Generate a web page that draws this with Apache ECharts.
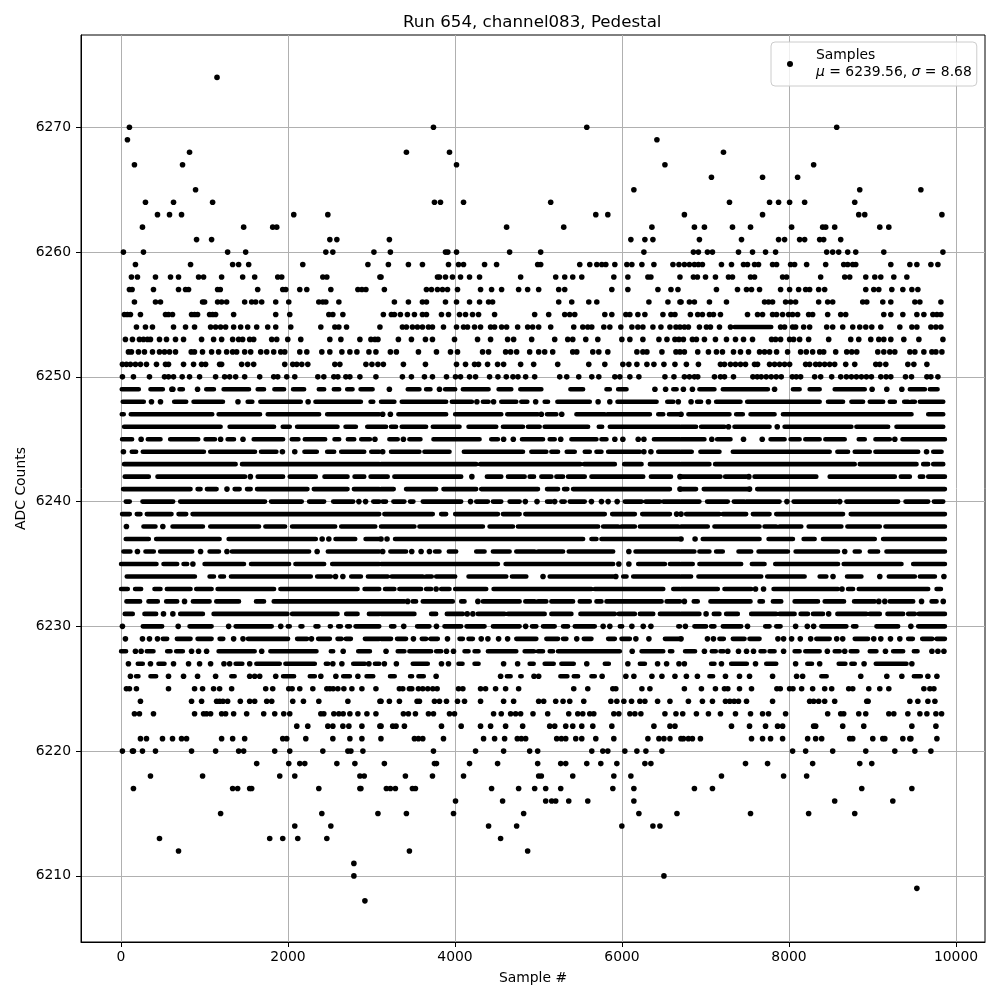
<!DOCTYPE html>
<html>
<head>
<meta charset="utf-8">
<style>html,body{margin:0;padding:0;background:#fff}#c{width:1000px;height:1000px}</style>
<script src="https://cdn.jsdelivr.net/npm/echarts@6/dist/echarts.min.js"></script>
</head>
<body>
<div id="c"></div>
<script>
// Values. A plain number is one visible dot at that sample #;
// [a, b] is a stretch where the dots at that ADC level merge into one solid bar.
const r6274=[1150];
const r6270=[101,3742,5578,8571];
const r6269=[77,6418];
const r6268=[821,3418,3934,7215];
const r6267=[161,737,4018,6514,8295];
const r6266=[7071,7683,8103];
const r6265=[893,6142,8847,9579];
const r6264=[293,629,1097,3754,3826,4102,5146,7287,7767,7875,8007,8187,8787];
const r6263=[437,581,725,2069,2477,5686,5830,6747,7683,8835,8907,9831];
const r6262=[257,1469,1817,1865,4618,5302,6358,6867,6987,7323,7539,8031,8403,8439,8547,9087,9195];
const r6261=[905,1085,2501,2585,3214,6106,6274,6370,6927,7431,7875,7947,8127,8187,8367,8415,8619];
const r6260=[29,269,1277,1493,2453,2537,3029,3226,3886,3914,4018,4654,5026,6262,6855,6915,7023,7083,7395,7563,7719,7839,8451,8523,8595,8703,8799,9135,9843];
const r6259=[173,833,1337,1409,1529,2177,2957,3202,3442,3610,3922,4042,4102,4354,4498,4990,5026,5494,5614,5698,5758,5806,5914,6058,6118,6238,6382,6610,6682,6747,6807,6867,6915,6963,7191,7311,7455,7503,7587,7635,7803,7851,8019,8067,8211,8439,8655,8703,8763,8799,9219,9447,9531,9699,9783];
const r6258=[125,197,413,593,689,929,989,1205,1457,1601,1877,1925,2417,2465,3101,3114,3790,3814,3886,3970,4066,4174,4294,4786,5206,5314,5410,5518,5902,6070,6310,6346,6694,6855,6903,7000,7119,7275,7323,7539,7587,7923,7971,8379,8667,8727,8919,9027,9099,9255,9411];
const r6257=[101,133,389,689,773,809,1157,1189,1637,1937,1973,2141,2225,2513,2837,2885,2933,3154,3658,3718,3790,3850,3910,4030,4306,4438,4558,4762,4870,5002,5242,5314,5878,6070,6430,6586,6670,7131,7383,7491,7551,7647,7899,8007,8115,8199,8247,8355,8427,8919,9015,9075,9231,9363,9471,9543];
const r6256=[161,413,473,977,1001,1157,1205,1265,1481,1565,1613,1685,1853,2009,2369,2417,2453,2609,3274,3442,3610,3658,3886,4018,4174,4294,4402,4450,5242,5398,5602,5698,6322,6550,6694,6707,6807,6867,7047,7251,7707,7755,7803,7959,8019,8079,8355,8463,8523,8883,8931,9123,9219,9507,9567,9819];
const r6255=[41,77,113,233,533,569,617,845,881,917,1061,1097,1133,1349,1853,2021,2489,2537,2657,3142,3238,3274,3346,3430,3514,3610,3658,3838,3922,4054,4126,4210,4282,4474,4954,5122,5314,5374,5434,5794,5878,6046,6094,6190,6274,6490,6586,6634,6819,6907,6963,7047,7095,7179,7503,7623,7683,7803,7851,7923,7995,8043,8103,8235,8283,8463,8619,8679,9135,9219,9363,9531,9615,9723,9771,9819];
const r6254=[185,293,377,629,773,881,1073,1133,1193,1253,1349,1433,1517,1625,1757,1853,2033,2393,2561,2609,2701,3101,3370,3418,3490,3550,3610,3682,3730,3862,4018,4102,4150,4234,4306,4426,4474,4558,4618,4750,4870,4930,5002,5146,5422,5530,5590,5638,5782,5854,5986,6118,6190,6250,6370,6466,6574,6646,6694,6747,6795,6927,7011,7059,7167,7299,[7347,7787],7899,7947,8043,8079,8175,8247,8451,8523,8643,8763,8847,8919,8991,9099,9327,9471,9531,9699,9759,9819];
const r6253=[53,137,221,269,317,353,461,545,653,749,965,1109,1205,1337,1409,1457,1541,1589,1805,1865,1997,2153,2501,2633,2861,2993,3041,3077,3322,3478,3646,3730,3994,4270,4426,4630,4702,4918,5194,5350,5410,5566,5710,5998,6094,6250,6442,6538,6634,6682,6735,6843,6891,6987,7119,7251,7359,7455,7563,7791,7839,7899,8007,8055,8127,8235,8475,8739,8835,8979,9075,9135,9219,9375,9555,9843];
const r6252=[89,125,209,281,377,461,521,581,653,841,880,976,1085,1169,1265,1337,1385,1481,1553,1673,1745,1829,1913,1961,2141,2225,2405,2501,2645,2741,2825,2969,3053,3226,3298,3562,3778,3946,4030,4330,4402,4606,4666,4738,4894,5002,5074,5170,5410,5458,5650,5722,5830,6178,6250,6298,6478,6646,6694,6747,6907,7035,7131,7203,7335,7419,7515,7647,7707,7767,7851,7983,8139,8207,8283,8367,8415,8559,8691,8751,8811,9063,9135,9207,9267,9447,9507,9615,9711,9759,9831];
const r6251=[17,65,113,173,233,305,425,533,569,749,869,965,1013,1181,1205,1445,1517,1589,1961,2057,2105,2165,2237,2561,2621,2933,3005,3077,3142,3382,3646,4018,4126,4234,4282,4390,4510,4582,4786,4942,5230,5602,5794,6010,6082,6178,6298,6382,6502,6634,6771,6915,7179,7227,7299,7359,7419,7479,7587,7623,7767,7827,7887,7947,8007,8199,8247,8319,8367,8427,8487,8547,8679,8787,9039,9087,9159,9423,9495,9651];
const r6250=[17,149,341,521,569,629,733,821,941,1133,1241,1301,1373,1481,1661,1829,1877,1985,2081,2357,2429,2549,2597,2693,2741,2861,3053,3370,3478,3634,3730,3898,4006,4066,4174,4246,4414,4514,4614,4694,4754,4846,4954,5254,5338,5482,5638,5722,5914,5974,6094,6202,6514,6622,6747,6807,6867,6907,7107,7179,7227,7335,7567,7619,7667,7727,7787,7847,7907,8039,8087,8139,8307,8379,8511,8619,8687,8747,8807,8867,8927,8987,9099,9163,9219,9395,9467,9651,9699,9783];
const r6249=[[9,213],[353,501],609,621,[701,741],917,[1021,1113],[1229,1533],[1637,1713],[1837,1953],[2061,2193],[2369,2433],[2549,2613],[2709,2773],[2869,3013],3214,[3434,3574],[3654,3706],3814,[3882,4002],[4094,4402],[4522,4674],[4782,5034],[5382,5534],[5814,5854],[5954,6054],6394,6522,[6614,6654],6735,6843,[6927,7107],[7207,7747],7827,[8047,8127],[8247,8367],[8547,8907],8995,9171,9351,[9447,9627],[9687,9779]];
const r6248=[[21,273],365,473,[637,781],[869,1221],1401,[1517,1573],[1669,2153],2241,[2329,2873],[2989,3021],[3114,3274],[3362,3894],[3962,4202],4262,[4334,4402],4462,[4554,4734],[4794,4866],4966,[5074,5114],[5226,5614],5714,5854,[5946,6414],[6542,6614],6674,6827,[6899,6947],7035,[7127,7419],[7499,8367],[8467,8647],[8747,8887],[8967,9127],[9207,9267],[9379,9427],[9467,9507],[9567,9847]];
const r6247=[[9,33],[117,1093],[1169,1665],[1757,2373],[2469,3093],3134,3226,[3322,3894],[4002,4554],[4626,4994],5034,[5102,5214],5278,[5454,5794],[5826,6334],[6434,6494],[6562,6694],6707,[6795,7287],[7367,7447],[7539,7827],[7927,9467],[9667,9847]];
const r6246=[[37,1193],[1301,1833],[1937,2021],[2109,2593],[2689,2813],[2949,3093],[3114,3174],[3234,3294],[3362,3654],[3734,4054],[4162,4494],[4574,4814],[4874,5014],[5074,5594],[5722,5762],[5854,6694],[6707,6887],[6947,7227],7275,[7347,7767],7859,[7947,8747],[8807,9187],[9287,9847]];
const r6245=[[13,133],241,[321,473],[589,925],[1013,1125],1193,[1277,1353],1461,[1589,1941],[2045,2125],[2201,2445],[2557,2613],[2717,2793],[2877,2981],3041,[3214,3314],3382,[3454,3586],[3742,4294],[4434,4514],4582,4698,[4802,5054],[5134,5194],5266,[5394,5694],[5754,5814],5914,6010,6194,6262,[6382,6694],[6707,6987],7075,[7139,7299],7455,7679,[7779,7947],[8019,8127],[8195,8367],[8435,8667],[8835,8907],[9035,9207],9267,[9359,9867]];
const r6244=[29,[129,181],[261,993],[1069,1605],[1677,1861],1933,2081,[2197,2345],[2469,2553],[2637,2913],[2997,3093],3134,[3234,3574],[3634,3934],[4106,4354],[4354,4814],[4914,5094],[5154,5234],[5338,5434],[5554,5614],[5694,5754],[5834,6214],6262,6346,[6434,6694],[6707,6835],[6939,7167],[7327,8487],[8579,8707],[8787,8967],[9035,9547],9647,[9727,9827]];
const r6243=[[37,1373],[1449,3093],[3114,4254],[4302,5502],[5546,5914],[6026,6234],[6334,6694],[6707,7047],[7115,8787],[8847,9527],[9607,9667],[9727,9847]];
const r6242=[[45,333],[437,1485],1549,[1637,1941],[2021,2333],[2437,2713],[2797,2913],[2989,3093],[3114,3194],[3274,4074],4202,[4382,4554],[4634,4834],[4894,4946],[5034,5154],[5214,5294],[5354,5554],[5634,6254],[6346,6586],6694,[6707,7179],[7235,7487],7519,[7587,8327],[8487,9267],[9339,9447],[9567,9607],[9667,9867]];
const r6241=[[25,833],[917,953],[1029,1145],1269,[1361,1421],[1509,1553],[1629,2233],[2309,2713],[2789,3093],[3114,3266],[3414,3774],[3862,4254],[4314,4994],[5102,5234],[5306,5346],[5414,6574],6694,[6707,6887],[6979,7507],7527,[7619,9867]];
const r6240=[[57,105],[257,625],[709,1725],[1797,2165],[2253,2433],[2541,2781],2849,2929,[3021,3093],[3134,3174],[3262,3394],[3462,3502],[3614,4074],4186,[4254,4394],[4454,4554],[4654,4774],4842,4982,[5102,5154],5194,[5274,5314],[5374,5554],5634,5754,5834,5942,[6034,6234],[6282,6454],[6494,6694],[6707,6927],[7019,7267],[7339,7467],[7487,7887],7975,[8055,8567],8607,[8687,9307],[9395,9667],[9735,9847]];
const r6239=[[13,105],[189,233],[309,605],[689,781],[857,3093],[3154,3734],[3834,3894],[4002,4514],[4574,4774],[4842,5794],[5882,6154],[6242,6574],6654,6707,[6767,7167],[7207,7487],[7567,7767],[7847,8647],[8739,9867]];
const r6238=[65,[269,413],501,[617,981],[1069,1653],[1729,1965],[2049,2565],[2637,3045],[3114,3514],[3574,4334],[4414,4694],[4754,5714],[5774,5954],[5994,6154],[6214,6674],[6707,7027],[7107,7647],[7707,7847],[7887,8147],[8235,8627],[8699,9087],[9155,9867]];
const r6237=[[57,333],[421,1181],[1289,2333],2409,2489,[2569,2805],[2929,3093],3114,3186,[3282,5534],[5634,5694],[5754,6694],6707,6875,[6967,7647],[7755,8047],[8175,8307],[8407,9027],[9127,9867]];
const r6236=[[29,113],197,[293,393],[469,853],953,[1061,1173],1269,[1329,2253],2349,[2477,3093],3134,[3226,3414],3482,3594,3694,[3762,3814],[3926,4014],[4254,4354],[4454,4654],[4734,4954],[4994,5294],[5362,5894],6082,[6162,6694],[6707,6867],[6927,7047],[7127,7207],[7395,7547],[7635,7987],[8079,8587],8667,[8787,8847],[8967,9067],[9167,9867]];
const r6235=[[1,425],[509,673],[749,793],861,[1001,1473],[1557,2013],[2089,2433],[2529,3093],[3114,4514],[4606,5894],5962,6082,[6194,6514],[6574,6694],[6707,6847],[6927,7427],[7555,7707],[7835,8587],[8655,9347],[9487,9867]];
const r6234=[[69,885],[1061,1113],[1189,1233],[1317,2273],[2349,2513],2569,2657,[2757,2873],[2957,3093],[3114,3194],[3242,3614],[3654,3722],[3774,4002],[4162,4614],[4682,4854],5054,[5134,5894],5926,[6014,6054],[6134,6694],[6707,6827],[6915,7667],[7739,8187],[8367,8447],8527,[8695,8867],9087,[9195,9507],[9567,9747],9855];
const r6233=[[1,81],[169,241],[401,473],[549,833],[901,1085],[1157,1833],[1909,2833],[2917,3093],[3162,3274],[3334,3594],[3654,3714],3774,[3834,3934],[4002,4374],[4462,5634],[5674,6494],[6614,6694],[6707,7147],[7227,7547],7599,7695,[7815,8587],8635,[8707,8767],[8835,9667],[9767,9819]];
const r6232=[[65,229],[329,441],[541,673],761,[861,1061],[1141,1413],[1617,1713],[1829,3093],[3114,3394],3434,[3494,3534],[3614,3974],[4074,4114],4274,[4334,4774],[4842,4954],[4994,5094],[5154,5414],[5494,5614],[5694,5754],[5814,6474],[6534,6694],6747,[6859,6907],[7059,7539],[7647,7687],[7807,7907],[8067,8347],[8427,8659],[8779,9027],9075,9147,[9207,9487],9587,[9707,9767],9847];
const r6231=[[45,141],[281,421],509,621,[709,981],[1109,1993],[2049,2593],[2697,2833],[2969,3093],[3114,3514],[3714,3774],[3902,4094],4146,4214,[4274,4594],[4634,5074],[5154,5394],[5502,5914],[5962,6154],[6214,6374],[6454,6694],[6707,6927],7007,[7099,7167],[7247,7387],[7547,7847],[7887,8067],[8139,8227],[8287,8407],8475,[8579,8927],[8967,9087],[9179,9367],[9427,9507],[9555,9867]];
const r6230=[17,[261,493],685,[821,1085],1289,[1373,1805],1913,[1997,2021],[2149,2173],[2329,2365],[2501,2513],[2601,2633],[2709,2741],[2809,3093],[3234,3274],3386,[3546,3694],3778,[3874,4074],[4138,4354],[4454,4774],4846,[4922,4974],[5054,5194],[5294,5354],[5434,5674],5774,5854,[5974,6002],6118,6254,6346,[6674,6694],6759,[6867,7007],[7067,7107],[7207,7427],7503,[7715,7767],[7847,7899],8079,8219,8295,[8387,8687],[8767,8807],[9047,9307],9459,[9547,9867]];
const r6229=[53,257,341,437,[501,553],[669,833],[917,1085],[1181,1225],1349,1461,[1521,2001],[2109,2229],2281,[2361,2501],[2593,2641],[2693,2753],[2921,3093],[3114,3234],[3306,3414],3502,[3602,3654],[3706,3794],3910,[4054,4094],[4162,4214],4314,4394,4522,4630,[4734,4974],[5094,5234],[5294,5334],5458,[5542,5634],[5834,5914],[5994,6094],6166,6322,[6514,6694],6707,7023,7095,[7167,7219],[7327,7467],[7527,7647],7867,7935,8031,8135,8259,[8327,8487],8571,8643,[8787,8947],9015,9099,9215,9327,[9427,9483],[9595,9715],[9767,9867]];
const r6228=[[1,61],173,241,[309,389],[553,593],[661,741],845,929,1025,[1169,1601],1685,[1789,2341],[2513,2541],2661,[2841,2981],3174,[3314,3394],[3454,3714],[3774,3834],3898,3982,[4114,4162],[4234,4282],[4394,4734],[4834,4946],[4994,5054],[5134,5174],[5234,5974],6122,[6234,6494],[6574,6602],[6755,6875],6987,[7075,7123],[7179,7215],7267,7395,7491,7575,[7659,7707],[7767,7827],7935,[8067,8127],[8195,8367],8459,[8547,8607],8667,[8739,8819],[8967,9047],9155,[9247,9367],[9495,9539],9711,9783,9855];
const r6227=[89,[201,261],353,[449,521],629,809,941,1073,1233,1301,[1373,1453],1541,[1621,1901],[1969,2321],[2453,2481],2537,2645,[2781,2921],2969,[3041,3093],3154,3298,[3494,3674],3838,3922,[4042,4090],[4234,4282],4582,4750,[4894,4942],[5074,5182],[5274,5422],5578,[5794,5842],6070,[6214,6274],6426,6534,6682,6747,[7067,7107],7191,[7307,7495],7599,[7727,7847],8079,[8219,8275],8367,[8595,8675],[8747,8787],8899,[9039,9407],9471];
const r6226=[113,[181,209],[353,421],569,749,917,1133,[1321,1361],1541,1601,1661,1853,[1941,2073],[2261,2321],2393,2573,[2661,2741],2837,[2941,3021],[3222,3278],[3462,3486],[3562,3626],3774,4546,[4622,4666],[4782,4798],4946,5002,[5262,5346],[5422,5474],[5634,5674],5762,6046,6142,6358,6478,6634,6771,6903,[7047,7091],7239,7407,7527,7803,8091,8163,[8387,8451],8859,9171,9351,[9495,9579],9663,9771];
const r6225=[65,101,185,569,881,977,1109,1181,1325,1733,1817,2009,2049,2141,2297,2465,2501,2541,2597,2669,2765,2885,3053,3334,3374,3454,3482,3562,3614,3674,3734,3786,4042,4094,4306,4366,4486,4606,4762,5422,5590,5890,5926,6238,6334,6747,6951,7119,7227,7267,7407,7551,7855,7895,8007,8047,8151,8283,8427,8511,8715,8763,8955,9087,9195,9615,9687,9735];
const r6224=[233,845,965,1145,1181,1221,1277,1429,1541,1601,1745,1805,2057,2185,2369,2717,3101,3114,3214,3334,3546,3574,3754,3814,3898,4030,4114,4306,4582,4702,5002,5062,5206,5294,5374,5542,5866,5938,6022,6114,6214,6274,6426,6574,6795,6963,7083,7239,7291,7343,7395,7491,7803,8247,8295,8355,8427,8547,8931,8947,9447,9543,9663,9747];
const r6223=[161,221,389,881,989,1025,1073,1205,1253,1349,1505,1709,1841,1949,2021,2393,2429,2549,2609,2661,2741,2837,2945,3053,3382,3442,3526,3682,3742,3934,3994,4462,4554,4666,4726,4786,4934,5110,5362,5470,5530,5614,5662,5902,5962,6094,6154,6226,6514,6646,6727,6891,7035,7179,7359,7539,7683,7755,7959,8463,8619,8655,8835,8919,9195,9255,9423,9567,9651,9759,9827];
const r6222=[2105,2237,2477,2537,2657,2729,2885,3101,3114,3254,3294,3394,3838,4074,4306,4426,4606,4810,5134,5194,5326,5410,5518,5650,5878,6382,6574,6634,7311,7527,7719,7863,7923,8295,8319,8643,8895,9471,9759];
const r6221=[233,305,497,617,725,785,1205,1337,1481,1937,1985,2213,2537,2741,2885,3113,3514,3562,3614,3862,4342,4474,4594,4746,4794,4846,5218,5274,5326,5446,5518,5686,5902,6310,6442,6502,6574,6706,6735,6795,6843,6939,7551,7683,7779,7923,8223,8319,8391,8727,8763,9003,9123,9147,9363,9447,9459,9771];
const r6220=[17,137,149,257,413,845,1133,1409,1469,1841,2021,2417,2717,2753,2897,3742,4246,4582,4894,4990,5638,5770,5830,6034,6178,6286,6478,8043,8199,8523,8919,9267,9507,9699];
const r6219=[1625,2009,2141,2201,2585,2801,3154,3754,3778,4174,4510,4990,5266,5326,5578,5746,5938,6274,6346,7479,7743,8283,8847,8991];
const r6218=[353,977,1901,2081,2861,2913,3406,3730,4102,5002,5034,5410,5902,6106,7191,7935,8211];
const r6217=[149,1337,1397,1541,1565,2369,2861,2873,3178,3226,3286,3490,3526,4438,4762,4954,5086,5266,5890,6142,6867,7083,8871,9471];
const r6216=[4006,4570,5086,5158,5206,5362,5590,6142,8547,9243];
const r6215=[1193,2405,3077,3418,3982,4822,6202,6658,7539,8235,8787];
const r6214=[2081,2513,4402,4738,5998,6370,6454];
const r6213=[461,1781,1937,2117,2465,4546];
const r6212=[689,3454,4870];
const r6211=[2789];
const r6210=[2789,6502];
const r6209=[9531];
const r6208=[2921];

const rows=[[6274,r6274],[6270,r6270],[6269,r6269],[6268,r6268],[6267,r6267],[6266,r6266],[6265,r6265],[6264,r6264],[6263,r6263],[6262,r6262],[6261,r6261],[6260,r6260],[6259,r6259],[6258,r6258],[6257,r6257],[6256,r6256],[6255,r6255],[6254,r6254],[6253,r6253],[6252,r6252],[6251,r6251],[6250,r6250],[6249,r6249],[6248,r6248],[6247,r6247],[6246,r6246],[6245,r6245],[6244,r6244],[6243,r6243],[6242,r6242],[6241,r6241],[6240,r6240],[6239,r6239],[6238,r6238],[6237,r6237],[6236,r6236],[6235,r6235],[6234,r6234],[6233,r6233],[6232,r6232],[6231,r6231],[6230,r6230],[6229,r6229],[6228,r6228],[6227,r6227],[6226,r6226],[6225,r6225],[6224,r6224],[6223,r6223],[6222,r6222],[6221,r6221],[6220,r6220],[6219,r6219],[6218,r6218],[6217,r6217],[6216,r6216],[6215,r6215],[6214,r6214],[6213,r6213],[6212,r6212],[6211,r6211],[6210,r6210],[6209,r6209],[6208,r6208]];
const xTicks=[0,2000,4000,6000,8000,10000];
const yTicks=[6210,6220,6230,6240,6250,6260,6270];

const dots=[], bars=[];
rows.forEach(function(row){
  row[1].forEach(function(v){
    if(Array.isArray(v)){ bars.push([v[0],row[0]],[v[1],row[0]],[null,null]); }
    else { dots.push([v,row[0]]); }
  });
});

const font='"DejaVu Sans"';
function axis(min,max,ticks,name,gap,pos,margin){
  return {type:'value',position:pos,min:min,max:max,name:name,nameLocation:'middle',nameGap:gap,nameMoveOverlap:false,
    nameTextStyle:{fontFamily:font,fontSize:13.9,color:'#000'},
    axisLine:{show:true,onZero:false,lineStyle:{color:'#000',width:1}},
    axisTick:{show:true,length:5,customValues:ticks,lineStyle:{color:'#000',width:1}},
    axisLabel:{customValues:ticks,fontFamily:font,fontSize:13.9,color:'#000',margin:margin,formatter:function(v){return String(v);}},
    splitLine:{show:true,lineStyle:{color:'#b0b0b0',width:1}}};
}
const chart=echarts.init(document.getElementById('c'),null,{renderer:'canvas'});
chart.setOption({
  animation:false,
  backgroundColor:'#fff',
  title:{text:'Run 654, channel083, Pedestal',left:403,top:14,padding:0,itemGap:0,
    textStyle:{fontFamily:font,fontSize:16.67,fontWeight:'normal',color:'#000'}},
  grid:{left:81,right:15,top:35,bottom:58,outerBoundsMode:'none',show:true,borderColor:'#000',borderWidth:1,backgroundColor:'#fff'},
  legend:{data:['Samples'],left:771,top:42,orient:'vertical',icon:'circle',itemWidth:6,itemHeight:6,
    padding:[5,5,5,16],backgroundColor:'rgba(255,255,255,0.8)',borderColor:'#ccc',borderWidth:1,borderRadius:4,
    selectedMode:false,
    formatter:function(){return 'Samples\n{i|\u03bc} = 6239.56, {i|\u03c3} = 8.68';},
    textStyle:{fontFamily:font,fontSize:13.9,color:'#000',lineHeight:17,padding:[0,0,0,18],
      rich:{i:{fontFamily:font,fontStyle:'italic',fontSize:13.9,color:'#000'}}}},
  xAxis:axis(-479,10347,xTicks,'Sample #',29,'bottom',8),
  yAxis:axis(6204.7,6277.4,yTicks,'ADC Counts',53,'left',10),
  series:[
    {name:'Samples',type:'scatter',data:dots,symbol:'circle',symbolSize:5.6,itemStyle:{color:'#000',opacity:1},silent:true,large:false,z:3},
    {name:'Samples',type:'line',data:bars,showSymbol:false,symbol:'none',connectNulls:false,silent:true,z:3,
      lineStyle:{color:'#000',width:4.6,cap:'round',join:'round'},itemStyle:{color:'#000'}}
  ]
});
</script>
</body>
</html>
